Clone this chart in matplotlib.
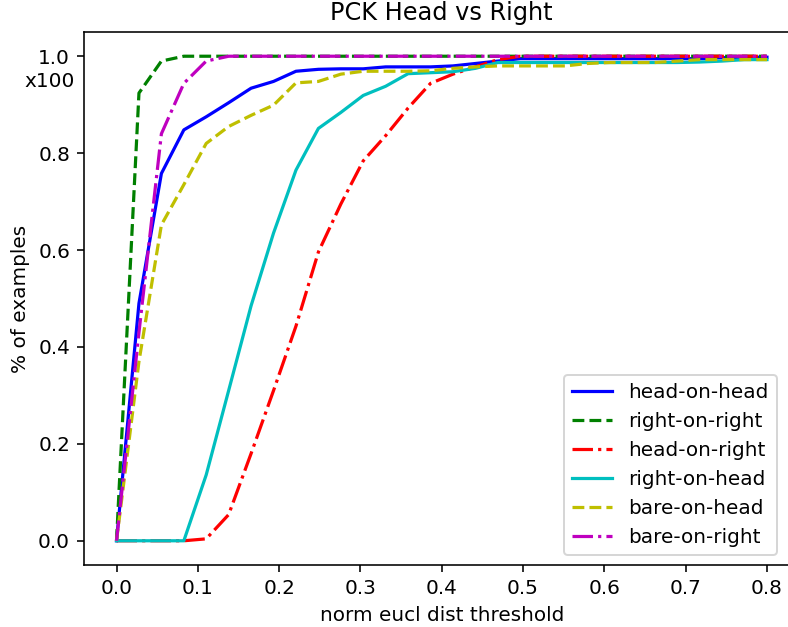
import matplotlib
matplotlib.use("Agg")
import matplotlib.pyplot as plt

thresholds = [0.0, 0.0276, 0.0552, 0.0828, 0.1103, 0.1379, 0.1655, 0.1931, 0.2207, 0.2483,
              0.2759, 0.3034, 0.3310, 0.3586, 0.3862, 0.4138, 0.4414, 0.4690, 0.4966, 0.5241,
              0.5517, 0.5793, 0.6069, 0.6345, 0.6621, 0.6897, 0.7172, 0.7448, 0.7724, 0.8]

head_on_head = [0, 0.49, 0.758, 0.848, 0.875, 0.904, 0.934, 0.948, 0.969, 0.973,
                0.974, 0.974, 0.978, 0.978, 0.978, 0.980, 0.985, 0.990, 0.995, 0.995,
                0.995, 0.995, 0.995, 0.995, 0.995, 0.995, 0.995, 0.997, 0.998, 0.998]
right_on_right = [0, 0.924, 0.99, 1.0, 1.0, 1.0, 1.0, 1.0, 1.0, 1.0,
                  1.0, 1.0, 1.0, 1.0, 1.0, 1.0, 1.0, 1.0, 1.0, 1.0,
                  1.0, 1.0, 1.0, 1.0, 1.0, 1.0, 1.0, 1.0, 1.0, 1.0]
head_on_right = [0, 0, 0, 0, 0.004, 0.054, 0.18, 0.31, 0.443, 0.596,
                 0.695, 0.784, 0.836, 0.893, 0.944, 0.963, 0.978, 0.993, 1.0, 1.0,
                 1.0, 1.0, 1.0, 1.0, 1.0, 1.0, 1.0, 1.0, 1.0, 1.0]
right_on_head = [0, 0, 0, 0, 0.136, 0.31, 0.485, 0.635, 0.765, 0.851,
                 0.884, 0.919, 0.938, 0.964, 0.966, 0.968, 0.975, 0.987, 0.987, 0.987,
                 0.987, 0.987, 0.987, 0.987, 0.987, 0.987, 0.988, 0.99, 0.993, 0.993]
bare_on_head = [0, 0.37, 0.652, 0.735, 0.82, 0.855, 0.878, 0.899, 0.945, 0.948,
                0.963, 0.969, 0.969, 0.969, 0.970, 0.975, 0.978, 0.980, 0.980, 0.980,
                0.980, 0.985, 0.987, 0.987, 0.987, 0.990, 0.993, 0.993, 0.993, 0.993]
bare_on_right = [0, 0.43, 0.84, 0.944, 0.99, 1.0, 1.0, 1.0, 1.0, 1.0,
                 1.0, 1.0, 1.0, 1.0, 1.0, 1.0, 1.0, 1.0, 1.0, 1.0,
                 1.0, 1.0, 1.0, 1.0, 1.0, 1.0, 1.0, 1.0, 1.0, 1.0]

series = [
    ("head-on-head", head_on_head, "b-"),
    ("right-on-right", right_on_right, "g--"),
    ("head-on-right", head_on_right, "r-."),
    ("right-on-head", right_on_head, "c-"),
    ("bare-on-head", bare_on_head, "y--"),
    ("bare-on-right", bare_on_right, "m-."),
]

fig = plt.figure(figsize=(788 / 144, 627 / 144), dpi=144)
ax = fig.add_axes([84 / 788, 62 / 627, 715.5 / 788, 533 / 627])

for label, vals, style in series:
    ax.plot(thresholds, vals, style, label=label, linewidth=1.6)

ax.set_xlim(-0.04, 0.84)
ax.set_ylim(-0.05, 1.05)
ax.set_xticks([0.0, 0.1, 0.2, 0.3, 0.4, 0.5, 0.6, 0.7, 0.8])
ax.set_yticks([0.0, 0.2, 0.4, 0.6, 0.8, 1.0])
ax.set_title("PCK Head vs Right")
ax.set_xlabel("norm eucl dist threshold")
ax.set_ylabel("% of examples")
ax.annotate("x100", xy=(0, 1.0), xycoords=("axes fraction", "data"),
            xytext=(-4.5, -12.8), textcoords="offset points",
            ha="right", va="center", fontsize=10)
ax.legend(loc="lower right", bbox_to_anchor=(1 - 13 / 715.5, 0))

fig.savefig("out.png", dpi=144)
